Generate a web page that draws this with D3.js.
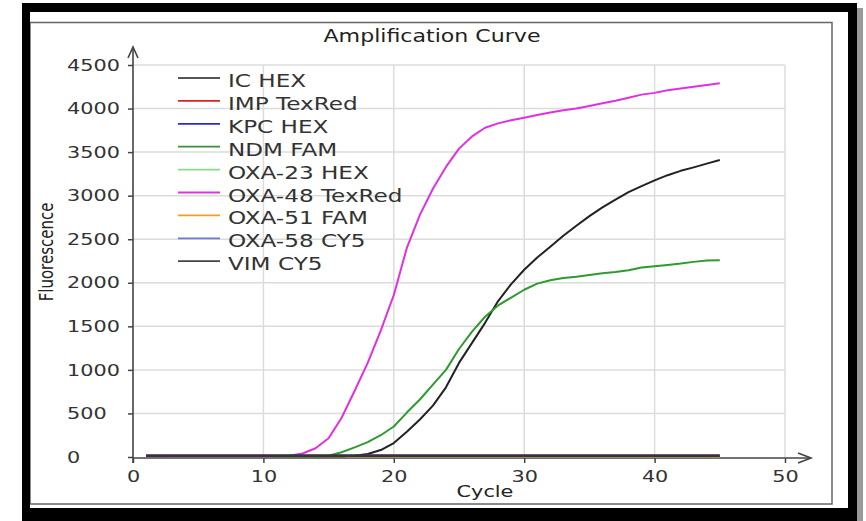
<!DOCTYPE html>
<html><head><meta charset="utf-8">
<script src="https://cdn.jsdelivr.net/npm/d3@7"></script>
<style>html,body{margin:0;padding:0;background:#fff;}svg{display:block;}text{font-family:"DejaVu Sans",Verdana,sans-serif;fill:#333;}</style>
</head><body>
<svg id="chart" width="866" height="521"></svg>
<script>
// ---------- data ----------
const cycles = [1,2,3,4,5,6,7,8,9,10,11,12,13,14,15,16,17,18,19,20,21,22,23,24,25,26,27,28,29,30,31,32,33,34,35,36,37,38,39,40,41,42,43,44,45];
const seriesNames = ["IC HEX","IMP TexRed","KPC HEX","NDM FAM","OXA-23 HEX","OXA-48 TexRed","OXA-51 FAM","OXA-58 CY5","VIM CY5"];
const icHex    = [10,10,10,10,10,10,10,10,10,10,10,10,10,10,10,10,15,35,80,160,290,430,590,800,1080,1310,1540,1790,1985,2150,2290,2414,2540,2655,2765,2865,2955,3040,3110,3175,3235,3285,3325,3368,3410];
const impTexRed= [8,8,8,8,8,8,8,8,8,8,8,8,8,8,8,8,8,8,8,8,8,8,8,8,8,8,8,8,8,8,8,8,8,8,8,8,8,8,8,8,8,8,8,8,8];
const kpcHex   = [11,11,11,11,11,11,11,11,11,11,11,11,11,11,11,11,11,11,11,11,11,11,11,11,11,11,11,11,11,11,11,11,11,11,11,11,11,11,11,11,11,11,11,11,11];
const ndmFam   = [10,10,10,10,10,10,10,10,10,10,10,10,10,10,15,55,110,170,250,350,510,660,830,1000,1240,1440,1610,1740,1830,1920,1990,2030,2055,2070,2090,2110,2125,2145,2175,2190,2205,2220,2240,2255,2260];
const oxa23Hex = [8,8,8,8,8,8,8,8,8,8,8,8,8,8,8,8,8,8,8,8,8,8,8,8,8,8,8,8,8,8,8,8,8,8,8,8,8,8,8,8,8,8,8,8,8];
const oxa48TexRed = [10,10,10,10,10,10,10,10,10,10,10,15,40,100,215,450,760,1080,1450,1860,2400,2780,3080,3330,3540,3680,3780,3830,3865,3895,3925,3955,3980,4000,4030,4060,4090,4125,4160,4180,4210,4230,4250,4270,4290];
const oxa51Fam = [8,8,8,8,8,8,8,8,8,8,8,8,8,8,8,8,8,8,8,8,8,8,8,8,8,8,8,8,8,8,8,8,8,8,8,8,8,8,8,8,8,8,8,8,8];
const oxa58Cy5 = [13,13,13,13,13,13,13,13,13,13,13,13,13,13,13,13,13,13,13,13,13,13,13,13,13,13,13,13,13,13,13,13,13,13,13,13,13,13,13,13,13,13,13,13,13];
const vimCy5   = [16,16,16,16,16,16,16,16,16,16,16,16,16,16,16,16,16,16,16,16,16,16,16,16,16,16,16,16,16,16,16,16,16,16,16,16,16,16,16,16,16,16,16,16,16];
const xTicks = [0,10,20,30,40,50];
const yTicks = [0,500,1000,1500,2000,2500,3000,3500,4000,4500];
const titleText = "Amplification Curve";
const xLabel = "Cycle";
const yLabel = "Fluorescence";

const seriesValues = [icHex, impTexRed, kpcHex, ndmFam, oxa23Hex, oxa48TexRed, oxa51Fam, oxa58Cy5, vimCy5];
const seriesColors = ["#222222","#dd2222","#2a2ad0","#2f9a2f","#88dd88","#e030e0","#f0a020","#6a7adc","#33343e"];
const legendColors = ["#555555","#dd2222","#2a2ad0","#3a8f3a","#88dd88","#dd33dd","#f0a020","#6a7adc","#444444"];
const seriesWidths = [2,2,2,2,2,2,2,2,2.8];

// ---------- layout ----------
const svg = d3.select("#chart");
const SX = 1.3; // horizontal glyph stretch seen in the reference
const x = d3.scaleLinear().domain([0,50]).range([133,785]);
const y = d3.scaleLinear().domain([0,4500]).range([457,65]);

function stext(parent, px, py, str, size, sx, anchor, rot){
  return parent.append("text")
    .attr("transform", `translate(${px},${py}) scale(${sx},1)` + (rot ? ` rotate(${rot})` : ""))
    .attr("text-anchor", anchor)
    .style("font-size", size + "px")
    .text(str);
}

// frame
svg.append("rect").attr("x",30).attr("y",22.5).attr("width",802).attr("height",481.5)
  .attr("fill","none").attr("stroke","#666").attr("stroke-width",1.5);
svg.append("rect").attr("x",857).attr("y",8).attr("width",6).attr("height",513).attr("fill","#9a9a9a");
svg.append("rect").attr("x",22).attr("y",3).attr("width",835).attr("height",9).attr("fill","#000");
svg.append("rect").attr("x",22).attr("y",3).attr("width",8).attr("height",518).attr("fill","#000");
svg.append("rect").attr("x",848).attr("y",3).attr("width",9).attr("height",518).attr("fill","#000");
svg.append("rect").attr("x",22).attr("y",508).attr("width",835).attr("height",13).attr("fill","#000");

// grid
const grid = svg.append("g").attr("stroke","#dcdcdc").attr("stroke-width",1.5);
grid.selectAll("line.gx").data(xTicks.filter(d=>d>0)).join("line")
  .attr("x1",d=>x(d)).attr("x2",d=>x(d)).attr("y1",y(4500)).attr("y2",y(0));
grid.selectAll("line.gy").data(yTicks.filter(d=>d>0)).join("line")
  .attr("x1",x(0)).attr("x2",x(50)).attr("y1",d=>y(d)).attr("y2",d=>y(d));

// axes ticks
const axisColor = "#444";
const gx = svg.append("g").attr("transform",`translate(0,${y(0)+1})`)
  .call(d3.axisBottom(x).tickValues(xTicks).tickSize(5).tickFormat(d3.format("d")));
gx.select(".domain").remove();
gx.selectAll("line").attr("stroke",axisColor).attr("stroke-width",1.5);
gx.selectAll("text").attr("y",13).attr("fill","#333").style("font-size","16px")
  .attr("transform",`scale(${SX},1)`);

const gy = svg.append("g").attr("transform",`translate(${x(0)},0)`)
  .call(d3.axisLeft(y).tickValues(yTicks).tickSize(5).tickFormat(d3.format("d")));
gy.select(".domain").remove();
gy.selectAll("line").attr("stroke",axisColor).attr("stroke-width",1.5);
gy.selectAll("text").attr("x",0).attr("text-anchor","start").attr("fill","#333").style("font-size","16px")
  .attr("transform",`translate(-66,0) scale(${SX},1)`);
gx.attr("font-family",null); gy.attr("font-family",null);

// axis lines with arrows
const ax = svg.append("g").attr("fill","none").attr("stroke",axisColor).attr("stroke-width",1.6);
ax.append("line").attr("x1",x(0)).attr("x2",811).attr("y1",y(0)+1).attr("y2",y(0)+1);
ax.append("path").attr("d",`M${811-13},${y(0)+1-5}L811,${y(0)+1}L${811-13},${y(0)+1+5}`);
ax.append("line").attr("x1",x(0)).attr("x2",x(0)).attr("y1",y(0)+6).attr("y2",47);
ax.append("path").attr("d",`M${x(0)-5},58L${x(0)},47L${x(0)+5},58`);

// curves
const line = d3.line().x((d,i)=>x(cycles[i])).y(d=>y(d));
const order = [1,2,4,6,0,3,5,7,8];
svg.append("g").selectAll("path").data(order).join("path")
  .attr("d", i=>line(seriesValues[i]))
  .attr("fill","none").attr("stroke", i=>seriesColors[i]).attr("stroke-width", i=>seriesWidths[i])
  .attr("stroke-linejoin","round");

// legend
const leg = svg.append("g");
seriesNames.forEach((name,i)=>{
  const ly = 78 + i*22.9;
  leg.append("line").attr("x1",178).attr("x2",220).attr("y1",ly).attr("y2",ly)
    .attr("stroke",legendColors[i]).attr("stroke-width",1.8);
  stext(leg, 228, ly+9, name, 17, 1.36, "start");
});

// titles
stext(svg, 432, 42, titleText, 17, SX, "middle").style("fill","#222");
stext(svg, 485, 497, xLabel, 16, SX, "middle").style("fill","#222");
stext(svg, 53, 252, yLabel, 15, SX, "middle", -90).style("fill","#222");
</script>
</body></html>
